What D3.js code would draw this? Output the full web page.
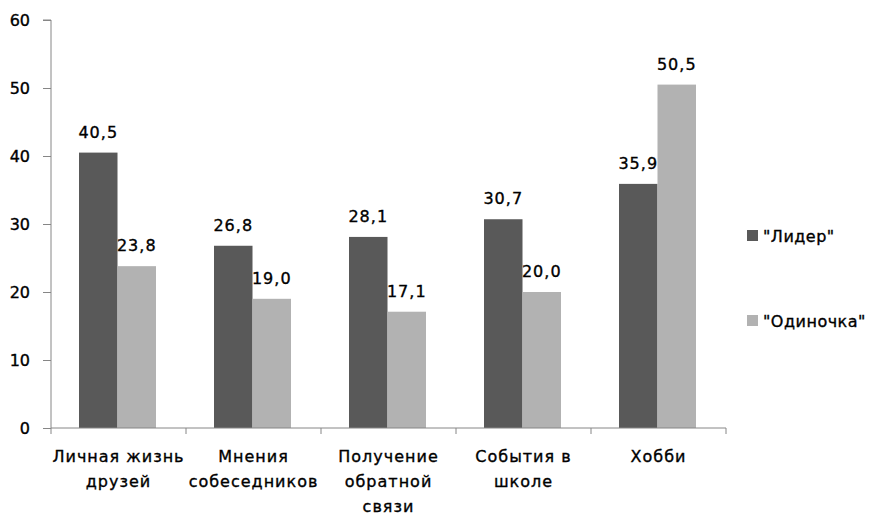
<!DOCTYPE html>
<html>
<head>
<meta charset="utf-8">
<script src="https://cdn.jsdelivr.net/npm/d3@7"></script>
<style>
  body { margin: 0; background: #fff; }
  text { font-family: "DejaVu Sans", Verdana, sans-serif; fill: #000; stroke: #000; stroke-width: 0.35px; }
</style>
</head>
<body>
<div id="chart"></div>
<script>
const width = 873;
const height = 515;

const categories = [
  ["Личная жизнь", "друзей"],
  ["Мнения", "собеседников"],
  ["Получение", "обратной", "связи"],
  ["События в", "школе"],
  ["Хобби"]
];
const seriesNames = ['"Лидер"', '"Одиночка"'];
const leaderValues = [40.5, 26.8, 28.1, 30.7, 35.9];
const loneValues = [23.8, 19.0, 17.1, 20.0, 50.5];
const yTicks = [0, 10, 20, 30, 40, 50, 60];

const colors = ["#595959", "#b2b2b2"];

const plot = { left: 51, right: 726, top: 20, bottom: 428 };

const svg = d3.select("#chart").append("svg")
  .attr("width", width)
  .attr("height", height);

const idx = d3.range(categories.length);
const x = d3.scaleBand().domain(idx).range([plot.left, plot.right]);
const x1 = d3.scaleBand().domain([0, 1]).range([28, 28 + 77]);
const y = d3.scaleLinear().domain([0, 60]).range([plot.bottom, plot.top]);

// y axis
const yAxis = svg.append("g")
  .attr("transform", `translate(${plot.left},0)`)
  .call(d3.axisLeft(y).tickValues(yTicks).tickSize(8).tickPadding(13).tickFormat(d3.format("d")));
yAxis.select(".domain").attr("stroke", "#868686").attr("d", `M-8,${y(60)}H0V${y(0)}`);
yAxis.selectAll(".tick line").attr("stroke", "#868686");
yAxis.selectAll(".tick text")
  .style("font-size", "16px")
  .style("font-family", "'DejaVu Sans', Verdana, sans-serif")
  .attr("fill", "#000");

// bars
const data = idx.map(i => [leaderValues[i], loneValues[i]]);
const groups = svg.append("g").selectAll("g")
  .data(data).enter()
  .append("g")
  .attr("transform", (d, i) => `translate(${x(i)},0)`);

groups.selectAll("rect")
  .data(d => d).enter()
  .append("rect")
  .attr("x", (d, j) => x1(j))
  .attr("y", d => y(d))
  .attr("width", x1.bandwidth())
  .attr("height", d => y(0) - y(d))
  .attr("fill", (d, j) => colors[j]);

groups.selectAll("text.val")
  .data(d => d).enter()
  .append("text")
  .attr("class", "val")
  .attr("x", (d, j) => x1(j) + x1.bandwidth() / 2)
  .attr("y", d => y(d) - 15)
  .attr("text-anchor", "middle")
  .style("font-size", "16px")
  .style("letter-spacing", "1px")
  .text(d => d3.format(".1f")(d).replace(".", ","));

// x axis
const xAxis = svg.append("g");
xAxis.append("line")
  .attr("x1", plot.left).attr("x2", plot.right)
  .attr("y1", y(0)).attr("y2", y(0))
  .attr("stroke", "#868686");
xAxis.selectAll("line.tick")
  .data(d3.range(categories.length + 1)).enter()
  .append("line")
  .attr("class", "tick")
  .attr("x1", i => plot.left + i * x.bandwidth())
  .attr("x2", i => plot.left + i * x.bandwidth())
  .attr("y1", y(0)).attr("y2", y(0) + 6)
  .attr("stroke", "#868686");

xAxis.selectAll("text")
  .data(categories).enter()
  .append("text")
  .attr("text-anchor", "middle")
  .style("font-size", "16px")
  .style("letter-spacing", "1px")
  .each(function (lines, i) {
    d3.select(this).selectAll("tspan")
      .data(lines).enter()
      .append("tspan")
      .attr("x", x(i) + x.bandwidth() / 2)
      .attr("y", (l, k) => 462 + k * 25)
      .text(l => l);
  });

// legend
const legend = svg.append("g");
seriesNames.forEach((name, j) => {
  const ly = 230 + j * 85;
  legend.append("rect")
    .attr("x", 747).attr("y", ly)
    .attr("width", 11).attr("height", 11)
    .attr("fill", colors[j]);
  legend.append("text")
    .attr("x", 763).attr("y", ly + 12)
    .style("font-size", "16px")
    .style("letter-spacing", "0.5px")
    .text(name);
});
</script>
</body>
</html>
